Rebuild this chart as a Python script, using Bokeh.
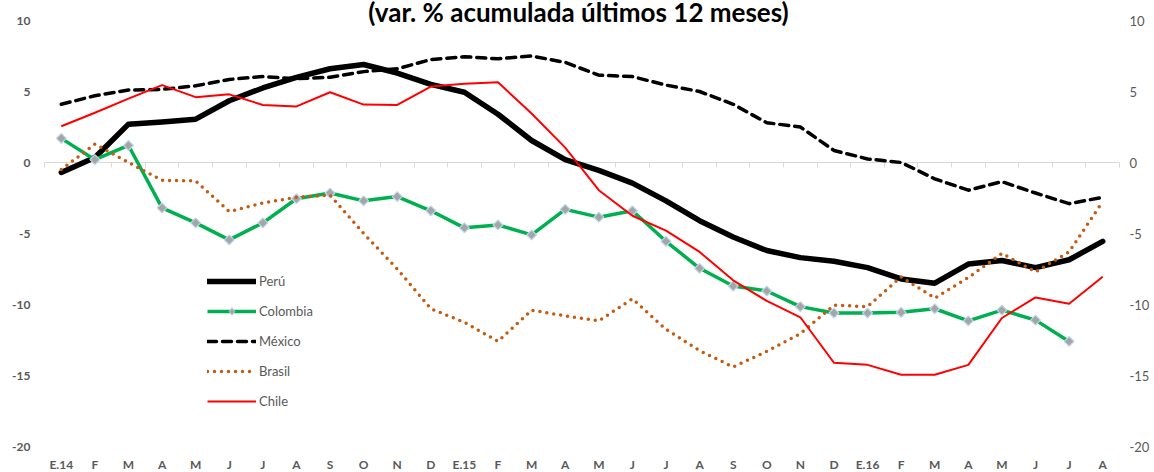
import numpy as np
from bokeh.plotting import figure
from bokeh.models import (Range1d, LinearAxis, FixedTicker, PrintfTickFormatter,
                          Legend, LegendItem, Label)
from bokeh.embed import file_html
from bokeh.resources import INLINE

# ---------------- data ----------------
months = ["E.14", "F", "M", "A", "M", "J", "J", "A", "S", "O", "N", "D",
          "E.15", "F", "M", "A", "M", "J", "J", "A", "S", "O", "N", "D",
          "E.16", "F", "M", "A", "M", "J", "J", "A"]

peru = [-0.7, 0.35, 2.7, 2.85, 3.05, 4.35, 5.25, 6.0, 6.6, 6.9, 6.3, 5.5,
        4.95, 3.4, 1.55, 0.2, -0.55, -1.45, -2.7, -4.1, -5.25, -6.2, -6.7, -6.95,
        -7.4, -8.2, -8.5, -7.15, -6.9, -7.4, -6.85, -5.55]

colombia = [1.7, 0.2, 1.2, -3.2, -4.25, -5.45, -4.25, -2.55, -2.15, -2.7, -2.4, -3.4,
            -4.6, -4.4, -5.1, -3.3, -3.85, -3.4, -5.55, -7.45, -8.7, -9.05, -10.15, -10.6,
            -10.6, -10.55, -10.3, -11.15, -10.4, -11.1, -12.6]

mexico = [4.1, 4.7, 5.1, 5.15, 5.4, 5.85, 6.05, 5.9, 6.0, 6.4, 6.6, 7.25,
          7.45, 7.3, 7.5, 7.05, 6.15, 6.05, 5.45, 5.0, 4.1, 2.8, 2.5, 0.85,
          0.25, 0.0, -1.15, -1.95, -1.35, -2.15, -2.9, -2.45]

brasil = [-0.5, 1.3, 0.0, -1.25, -1.3, -3.45, -2.85, -2.45, -2.3, -5.0, -7.5, -10.3,
          -11.25, -12.6, -10.4, -10.8, -11.15, -9.6, -11.75, -13.25, -14.4, -13.3, -12.05, -10.05,
          -10.15, -8.05, -9.55, -8.1, -6.4, -7.7, -6.3, -2.75]

chile = [2.55, 3.5, 4.5, 5.45, 4.6, 4.8, 4.05, 3.95, 4.95, 4.08, 4.05, 5.35,
         5.55, 5.65, 3.45, 1.05, -1.95, -3.75, -4.8, -6.3, -8.3, -9.75, -10.9, -14.1,
         -14.25, -14.95, -14.95, -14.25, -10.95, -9.5, -9.95, -8.05]

y_ticks = [-20, -15, -10, -5, 0, 5, 10]
title_text = "(var. % acumulada últimos 12 meses)"
series_names = ["Perú", "Colombia", "México", "Brasil", "Chile"]

# ---------------- layout ----------------
W, H = 1154, 472
n = len(months)
# plot area in figure pixels
fl, fr, ft, fb = 44, 1119, 20, 446
xpp = n / (fr - fl)
ypp = 30 / (fb - ft)
x_range = Range1d(-0.5 - fl * xpp, n - 0.5 + (W - fr) * xpp)
y_range = Range1d(-20 - (H - fb) * ypp, 10 + ft * ypp)

p = figure(width=W, height=H, x_range=x_range, y_range=y_range,
           x_axis_location=None, y_axis_location=None, min_border=0,
           toolbar_location=None, output_backend="svg")
p.outline_line_color = None
p.grid.visible = False
p.background_fill_color = "white"

FONT = "Lato"
GRAY = "#595959"
COL_FILL = "#A5A5A5"
COL_EDGE = "#BDD7EE"

# ---------------- series ----------------
x_all = list(range(n))
r_peru = p.line(x_all, peru, line_color="black", line_width=5.5,
                line_join="round", line_cap="round")
xc = list(range(len(colombia)))
r_col = p.line(xc, colombia, line_color="#00B050", line_width=3.5, line_join="round")
p.scatter(xc, colombia, marker="square", angle=np.pi / 4, size=7,
          fill_color=COL_FILL, line_color=COL_EDGE, line_width=1.2)
r_mex = p.line(x_all, mexico, line_color="black", line_width=3.5,
               line_dash="9 6", line_cap="round", line_join="round")
r_bra = p.line(x_all, brasil, line_color="#C55A11", line_width=3.5,
               line_dash="0 7", line_cap="round", line_join="round")
r_chi = p.line(x_all, chile, line_color="#FF0000", line_width=2, line_join="round")

# legend-only proxy for the diamond marker (a single NaN point, never drawn in the plot)
r_colm_legend = p.scatter(x=[np.nan], y=[np.nan], marker="diamond", size=8,
                          fill_color=COL_FILL, line_color=COL_EDGE, line_width=1)

# ---------------- axes ----------------
left_ax = LinearAxis(fixed_location=-0.5, ticker=FixedTicker(ticks=y_ticks),
                     formatter=PrintfTickFormatter(format="%d"),
                     axis_line_color=None, major_tick_line_color=None,
                     minor_tick_line_color=None, major_tick_out=0, major_tick_in=0,
                     major_label_standoff=14, major_label_text_font=FONT,
                     major_label_text_font_style="bold",
                     major_label_text_font_size="12px",
                     major_label_text_color=GRAY)
p.add_layout(left_ax, "left")

right_ax = LinearAxis(fixed_location=n - 0.5, ticker=FixedTicker(ticks=y_ticks),
                      formatter=PrintfTickFormatter(format="%d"),
                      axis_line_color=None, major_tick_line_color=None,
                      minor_tick_line_color=None, major_tick_out=0, major_tick_in=0,
                      major_label_standoff=10, major_label_text_font=FONT,
                      major_label_text_font_size="13px",
                      major_label_text_color=GRAY)
p.add_layout(right_ax, "right")

bounds = [i - 0.5 for i in range(n + 1)]
zero_ax = LinearAxis(fixed_location=0, bounds=(-0.5, n - 0.5),
                     ticker=FixedTicker(ticks=[], minor_ticks=bounds),
                     axis_line_color="#D9D9D9", axis_line_width=1,
                     major_tick_line_color=None,
                     minor_tick_line_color="#D9D9D9", minor_tick_in=0, minor_tick_out=5,
                     major_label_text_font_size="0px")
zero_ax.level = "underlay"
p.add_layout(zero_ax, "below")

cat_ax = LinearAxis(fixed_location=-20, ticker=FixedTicker(ticks=x_all),
                    major_label_overrides={i: m for i, m in enumerate(months)},
                    axis_line_color=None, major_tick_line_color=None,
                    minor_tick_line_color=None, major_tick_out=0, major_tick_in=0,
                    major_label_standoff=10, major_label_text_font=FONT,
                    major_label_text_font_style="bold",
                    major_label_text_font_size="12px",
                    major_label_text_color=GRAY)
p.add_layout(cat_ax, "below")

# ---------------- title ----------------
p.add_layout(Label(x=578, y=H - 11, x_units="screen", y_units="screen",
                   text=title_text, text_align="center", text_baseline="alphabetic",
                   text_font=FONT, text_font_style="bold", text_font_size="26px",
                   text_color="black"))

# ---------------- legend ----------------
legend = Legend(items=[
    LegendItem(label=series_names[0], renderers=[r_peru]),
    LegendItem(label=series_names[1], renderers=[r_col, r_colm_legend]),
    LegendItem(label=series_names[2], renderers=[r_mex]),
    LegendItem(label=series_names[3], renderers=[r_bra]),
    LegendItem(label=series_names[4], renderers=[r_chi]),
], location=(207, 61), orientation="vertical", glyph_width=49, glyph_height=20,
    label_height=20, spacing=10, padding=0, margin=0, label_standoff=3,
    border_line_color=None, background_fill_alpha=0,
    label_text_font=FONT, label_text_font_size="13px", label_text_color=GRAY)
p.add_layout(legend)

open("out.html", "w").write(file_html(p, INLINE))
